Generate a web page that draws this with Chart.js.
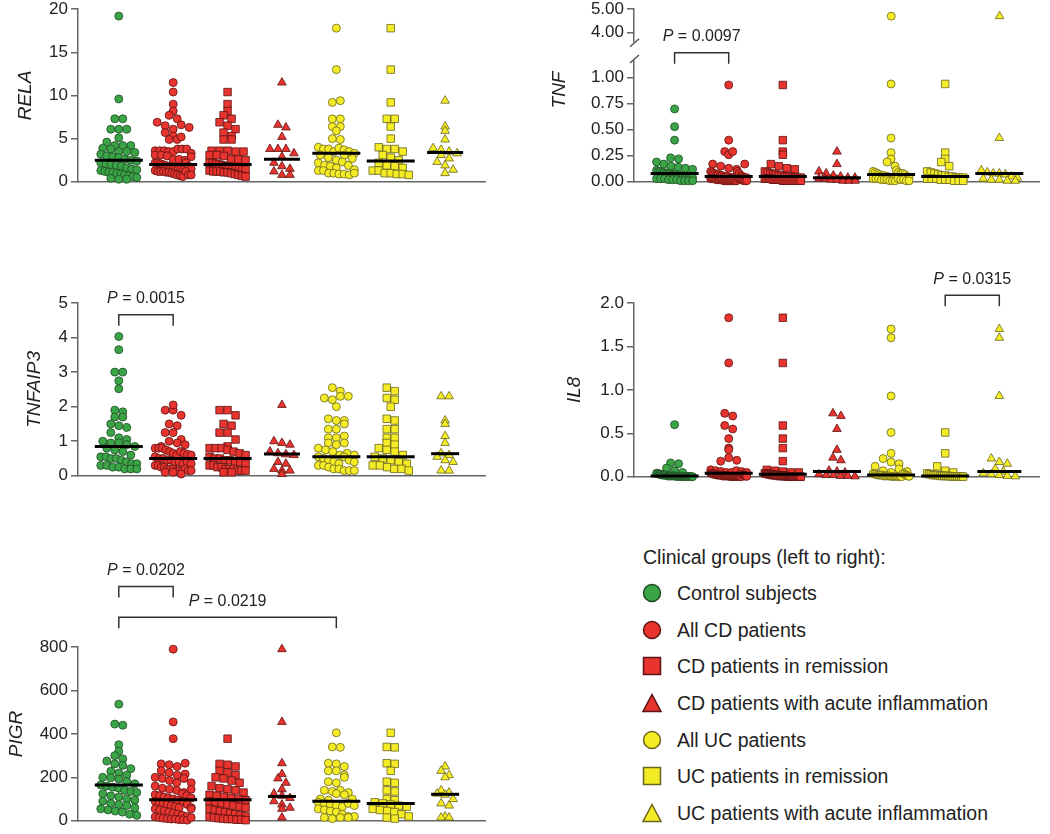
<!DOCTYPE html>
<html>
<head>
<meta charset="utf-8">
<script src="https://cdn.jsdelivr.net/npm/chart.js@4.4.1/dist/chart.umd.min.js"></script>
<style>
  body { margin: 0; width: 1050px; height: 834px; position: relative; overflow: hidden; background: #fff;
         font-family: 'Liberation Sans', Arial, sans-serif; color: #222; }
  .box { position: absolute; }
  #legend { position: absolute; left: 642px; top: 544px; font-size: 19.5px; }
  #legend .head { height: 26px; line-height: 26px; margin-left: 1px; }
  #legend .row { position: absolute; left: 0; height: 24px; line-height: 24px; white-space: nowrap; }
  #legend svg { position: absolute; left: 0; top: 2px; }
  #legend span { position: absolute; left: 35px; }
</style>
</head>
<body>
<div id="legend"></div>
<script>
const FONT = "'Liberation Sans', Arial, sans-serif";

// groups, left to right
const groupNames = ['Control subjects', 'All CD patients', 'CD patients in remission',
  'CD patients with acute inflammation', 'All UC patients', 'UC patients in remission',
  'UC patients with acute inflammation'];

// RELA
const relaControl = [19.2, 9.6, 7.3, 7.3, 6.1, 6.1, 6.1, 5.1, 4.6, 4.2, 4.2, 4.2, 3.9, 3.8, 3.5, 3.5, 3.4, 3.2, 3.0, 2.9, 2.8, 2.6, 2.5, 2.4, 2.2, 2.1, 2.0, 1.9, 1.8, 1.6, 1.5, 1.4, 1.3, 1.2, 1.1, 1.1, 1.0, 0.9, 0.8, 0.7, 0.6, 0.5, 0.4, 0.3, 0.3];
const relaCDRemission = [10.4, 9.0, 8.2, 7.7, 7.3, 6.9, 6.5, 6.1, 5.7, 5.3, 4.9, 4.9, 3.6, 3.6, 3.6, 3.5, 3.5, 3.1, 3.1, 3.0, 2.6, 2.6, 2.5, 2.2, 2.2, 2.1, 2.0, 1.9, 1.8, 1.8, 1.6, 1.6, 1.5, 1.5, 1.4, 1.3, 1.2, 1.2, 1.2, 1.1, 1.1, 1.0, 0.9, 0.8, 0.7, 0.6];
const relaCDAcute = [11.5, 6.6, 6.3, 5.2, 3.8, 3.8, 3.8, 3.3, 2.9, 2.2, 1.8, 1.5, 1.2, 0.8, 0.8];
const relaUCRemission = [17.8, 13.0, 9.2, 7.3, 7.3, 6.4, 5.0, 4.0, 3.8, 3.8, 3.5, 3.1, 2.8, 2.5, 2.2, 1.9, 1.8, 1.6, 1.3, 1.3, 1.0, 1.0, 0.9, 0.9, 0.8];
const relaUCAcute = [9.4, 6.4, 5.9, 4.9, 3.9, 3.7, 3.5, 3.3, 3.1, 2.7, 2.3, 1.9, 1.4, 1.0];
const relaMedians = [2.5, 2.0, 2.0, 2.6, 3.3, 2.4, 3.4];
const relaTicks = [0, 5, 10, 15, 20];

// TNF (broken axis)
const tnfControl = [0.70, 0.53, 0.40, 0.23, 0.22, 0.19, 0.17, 0.15, 0.14, 0.13, 0.12, 0.11, 0.10, 0.10, 0.09, 0.09, 0.08, 0.08, 0.08, 0.07, 0.07, 0.07, 0.06, 0.06, 0.06, 0.05, 0.05, 0.05, 0.04, 0.04, 0.04, 0.03, 0.03, 0.03, 0.02, 0.02, 0.02, 0.01, 0.01, 0.01, 0.01];
const tnfCDRemission = [0.93, 0.40, 0.29, 0.26, 0.17, 0.15, 0.13, 0.12, 0.10, 0.09, 0.08, 0.07, 0.07, 0.06, 0.06, 0.05, 0.05, 0.05, 0.04, 0.04, 0.04, 0.04, 0.03, 0.03, 0.03, 0.03, 0.02, 0.02, 0.02, 0.02, 0.02, 0.01, 0.01, 0.01, 0.01, 0.01, 0.01, 0.01, 0.01, 0.01, 0.01];
const tnfCDAcute = [0.29, 0.17, 0.10, 0.08, 0.06, 0.05, 0.04, 0.04, 0.03, 0.03, 0.02, 0.02, 0.01, 0.01, 0.01];
const tnfUCRemission = [0.94, 0.28, 0.22, 0.19, 0.15, 0.10, 0.09, 0.08, 0.07, 0.06, 0.06, 0.05, 0.05, 0.04, 0.04, 0.04, 0.03, 0.03, 0.03, 0.02, 0.02, 0.02, 0.01, 0.01, 0.01];
const tnfUCAcute = [4.70, 0.42, 0.11, 0.09, 0.08, 0.08, 0.07, 0.05, 0.04, 0.03, 0.02, 0.02, 0.01, 0.01];
const tnfMedians = [0.08, 0.05, 0.05, 0.04, 0.07, 0.05, 0.08];
const tnfLowTicks = [0, 0.25, 0.5, 0.75, 1];
const tnfHighTicks = [4, 5];
const tnfBreak = 1.17;

// TNFAIP3
const tnfaip3Control = [4.03, 3.65, 3.0, 3.0, 2.75, 2.52, 1.9, 1.85, 1.7, 1.7, 1.5, 1.45, 1.4, 1.25, 1.1, 1.05, 1.0, 0.95, 0.95, 0.9, 0.85, 0.8, 0.75, 0.7, 0.6, 0.55, 0.55, 0.5, 0.5, 0.45, 0.4, 0.35, 0.35, 0.3, 0.3, 0.25, 0.25, 0.2, 0.2, 0.2];
const tnfaip3CDRemission = [1.9, 1.9, 1.75, 1.5, 1.45, 1.25, 1.25, 1.05, 0.85, 0.8, 0.8, 0.8, 0.75, 0.7, 0.65, 0.6, 0.55, 0.5, 0.5, 0.45, 0.45, 0.4, 0.4, 0.35, 0.3, 0.3, 0.25, 0.25, 0.2, 0.2, 0.2, 0.15, 0.15, 0.15, 0.1, 0.1];
const tnfaip3CDAcute = [2.05, 1.0, 0.95, 0.9, 0.7, 0.65, 0.62, 0.6, 0.4, 0.35, 0.2, 0.15, 0.15, 0.05];
const tnfaip3UCRemission = [2.55, 2.45, 2.25, 2.2, 2.0, 1.65, 1.6, 1.35, 1.35, 1.1, 1.1, 0.95, 0.9, 0.8, 0.75, 0.7, 0.6, 0.55, 0.5, 0.45, 0.4, 0.35, 0.3, 0.3, 0.25, 0.2, 0.2, 0.15];
const tnfaip3UCAcute = [2.3, 2.3, 1.6, 1.5, 1.15, 0.95, 0.65, 0.6, 0.55, 0.45, 0.4, 0.15, 0.15];
const tnfaip3Medians = [0.85, 0.5, 0.5, 0.63, 0.55, 0.55, 0.64];
const tnfaip3Ticks = [0, 1, 2, 3, 4, 5];

// IL8
const il8Control = [0.60, 0.16, 0.15, 0.10, 0.07, 0.05, 0.04, 0.04, 0.03, 0.03, 0.03, 0.02, 0.02, 0.02, 0.02, 0.02, 0.01, 0.01, 0.01, 0.01, 0.01, 0.01, 0.01, 0.01, 0.005, 0.005, 0.005, 0.005, 0.005, 0.005, 0.005, 0.005, 0.003, 0.003, 0.003, 0.003, 0.002, 0.002, 0.002, 0.002];
const il8CDRemission = [1.83, 1.31, 0.59, 0.44, 0.33, 0.18, 0.08, 0.07, 0.06, 0.05, 0.05, 0.04, 0.04, 0.04, 0.03, 0.03, 0.03, 0.03, 0.02, 0.02, 0.02, 0.02, 0.02, 0.02, 0.01, 0.01, 0.01, 0.01, 0.01, 0.01, 0.01, 0.01, 0.005, 0.005, 0.005, 0.005, 0.005, 0.005, 0.005, 0.005, 0.003, 0.003, 0.003, 0.003, 0.002, 0.002];
const il8CDAcute = [0.73, 0.70, 0.55, 0.31, 0.22, 0.19, 0.07, 0.06, 0.05, 0.03, 0.02, 0.02, 0.01, 0.01, 0.005];
const il8UCRemission = [0.51, 0.27, 0.12, 0.07, 0.05, 0.04, 0.03, 0.03, 0.02, 0.02, 0.02, 0.02, 0.01, 0.01, 0.01, 0.01, 0.01, 0.005, 0.005, 0.005, 0.005, 0.005, 0.003, 0.003, 0.002];
const il8UCAcute = [1.70, 1.60, 0.93, 0.21, 0.17, 0.15, 0.09, 0.06, 0.04, 0.03, 0.02, 0.01, 0.005];
const il8Medians = [0.01, 0.04, 0.03, 0.06, 0.02, 0.01, 0.06];
const il8Ticks = [0, 0.5, 1, 1.5, 2];

// PIGR
const pigrControl = [537, 445, 440, 350, 320, 300, 285, 275, 262, 255, 240, 228, 220, 210, 200, 198, 192, 180, 170, 165, 160, 155, 150, 140, 135, 130, 125, 115, 110, 100, 95, 90, 80, 75, 70, 60, 55, 50, 45, 40, 30, 25];
const pigrCDRemission = [378, 262, 258, 250, 230, 222, 210, 200, 195, 185, 175, 160, 150, 145, 140, 130, 120, 115, 110, 105, 100, 95, 90, 85, 80, 75, 70, 65, 60, 55, 50, 45, 40, 35, 30, 25, 20, 18, 15, 12, 10, 8, 8, 5, 5, 3];
const pigrCDAcute = [790, 455, 265, 215, 195, 175, 145, 125, 115, 105, 90, 75, 60, 55, 15];
const pigrUCRemission = [405, 340, 338, 265, 262, 230, 180, 175, 140, 135, 100, 95, 85, 80, 75, 70, 65, 55, 50, 45, 40, 30, 20, 15, 10];
const pigrUCAcute = [250, 230, 210, 200, 140, 130, 125, 120, 100, 80, 70, 20, 15, 15];
const pigrMedians = [165, 97, 97, 112, 90, 80, 122];
const pigrTicks = [0, 200, 400, 600, 800];

// significance brackets (groups compared, bracket height in axis units)
const tnfBrackets = [{from: 1, to: 2, y: 1.24, p: '0.0097'}];
const tnfaip3Brackets = [{from: 1, to: 2, y: 4.66, p: '0.0015'}];
const il8Brackets = [{from: 6, to: 7, y: 2.09, p: '0.0315'}];
const pigrBrackets = [{from: 1, to: 2, y: 1079, p: '0.0202'}, {from: 1, to: 5, y: 937, p: '0.0219'}];

// styling
const fills = ['#3ba447', '#e8332e', '#e8332e', '#e8332e', '#f4ec25', '#f4ec25', '#f4ec25'];
const edges = ['#1f4a24', '#5a1412', '#5a1412', '#5a1412', '#6b6420', '#6b6420', '#6b6420'];
const shapes = ['circle', 'circle', 'rect', 'triangle', 'circle', 'rect', 'triangle'];
const radius = {circle: 4, rect: 5.3, triangle: 5};
const BIN = 8, MAXSPAN = 36;

// all CD = remission + acute, all UC = remission + acute
function collect(c, cdR, cdA, ucR, ucA) {
  return [c, cdR.concat(cdA), cdR, cdA, ucR.concat(ucA), ucR, ucA];
}

const extras = {
  id: 'extras',
  afterDraw(chart, args, opts) {
    const {ctx} = chart, xs = chart.scales.x, ys = chart.scales.y;
    ctx.save();
    ctx.strokeStyle = '#333';
    ctx.lineWidth = 1.5;
    (opts.brackets || []).forEach(b => {
      const x1 = xs.getPixelForValue(b.from), x2 = xs.getPixelForValue(b.to), y = ys.getPixelForValue(b.y);
      ctx.beginPath();
      ctx.moveTo(x1, y + 11); ctx.lineTo(x1, y); ctx.lineTo(x2, y); ctx.lineTo(x2, y + 11);
      ctx.stroke();
      ctx.font = 'italic 16px ' + FONT;
      const wP = ctx.measureText('P').width;
      ctx.font = '16px ' + FONT;
      const rest = ' = ' + b.p, wR = ctx.measureText(rest).width;
      const start = (x1 + x2) / 2 - (wP + wR) / 2, ty = y - 16;
      ctx.fillStyle = '#222';
      ctx.textBaseline = 'middle';
      ctx.textAlign = 'left';
      ctx.font = 'italic 16px ' + FONT;
      ctx.fillText('P', start, ty);
      ctx.font = '16px ' + FONT;
      ctx.fillText(rest, start + wP, ty);
    });
    if (opts.cut) {
      const x = ys.right, y = opts.cut === 'bottom' ? ys.bottom + 1 : ys.top - 1;
      ctx.strokeStyle = '#555';
      ctx.beginPath(); ctx.moveTo(x - 4, y + 4); ctx.lineTo(x + 5, y - 4); ctx.stroke();
    }
    if (opts.sideTitle) {
      const t = opts.sideTitle;
      ctx.translate(t.x, t.y);
      ctx.rotate(-Math.PI / 2);
      ctx.font = 'italic 19px ' + FONT;
      ctx.fillStyle = '#222';
      ctx.textAlign = 'center';
      ctx.textBaseline = 'middle';
      ctx.fillText(t.text, 0, 0);
    }
    ctx.restore();
  }
};

function arrange(chart) {
  const xs = chart.scales.x, ys = chart.scales.y;
  const ppu = xs.getPixelForValue(1) - xs.getPixelForValue(0);
  const spans = {};
  chart.data.datasets.filter(d => d.kind === 'pts').forEach(d => {
    const rows = new Map();
    d.values.forEach((v, i) => {
      const r = Math.round((ys.getPixelForValue(0) - ys.getPixelForValue(v)) / BIN);
      if (!rows.has(r)) rows.set(r, []);
      rows.get(r).push(i);
    });
    let span = 0;
    rows.forEach(idx => {
      const n = idx.length, step = n > 1 ? Math.min(BIN, MAXSPAN / (n - 1)) : 0;
      idx.forEach((k, j) => { d.data[k] = {x: d.group + (j - (n - 1) / 2) * step / ppu, y: d.values[k]}; });
      span = Math.max(span, (n - 1) * step);
    });
    spans[d.group] = span;
  });
  chart.data.datasets.filter(d => d.kind === 'med').forEach(d => {
    const half = Math.max(14, spans[d.group] / 2 + 6) / ppu;
    d.data = [{x: d.group - half, y: d.median}, {x: d.group + half, y: d.median}];
  });
  chart.update('none');
}

function panel(o) {
  const padB = 12, padR = 4;
  const wrap = document.createElement('div');
  wrap.className = 'box';
  wrap.style.left = (o.left - o.axisW) + 'px';
  wrap.style.top = (o.top - o.padTop) + 'px';
  wrap.style.width = (o.axisW + o.width + padR) + 'px';
  wrap.style.height = (o.padTop + o.height + padB) + 'px';
  const cv = document.createElement('canvas');
  wrap.appendChild(cv);
  document.body.appendChild(wrap);

  const datasets = [];
  o.groups.forEach((vals, g) => {
    datasets.push({
      kind: 'pts', group: g + 1, values: vals,
      data: vals.map(v => ({x: g + 1, y: v})),
      pointStyle: shapes[g], pointRadius: radius[shapes[g]],
      backgroundColor: fills[g], borderColor: edges[g], borderWidth: 0.8,
      order: 2, clip: false
    });
  });
  (o.medians || []).forEach((m, g) => {
    datasets.push({
      kind: 'med', group: g + 1, median: m,
      data: [{x: g + 1, y: m}, {x: g + 1, y: m}],
      showLine: true, borderColor: '#000', borderWidth: 3, pointRadius: 0,
      order: 1, clip: false
    });
  });

  const chart = new Chart(cv, {
    type: 'scatter',
    data: {datasets},
    options: {
      responsive: true, maintainAspectRatio: false, animation: false, events: [],
      layout: {padding: {top: o.padTop, bottom: padB, left: 0, right: padR}},
      scales: {
        x: {
          type: 'linear', min: 0.25, max: 7.75, display: !o.noX,
          ticks: {display: false}, grid: {display: false},
          border: {display: true, color: '#666', width: 1.5},
          afterFit: s => { s.height = 0; }
        },
        y: {
          type: 'linear', min: o.min, max: o.max,
          afterBuildTicks: s => { s.ticks = o.ticks.map(v => ({value: v})); },
          afterFit: s => { s.width = o.axisW; },
          ticks: {callback: v => o.fmt(v), color: '#222', padding: 3, font: {family: FONT, size: 17}},
          grid: {drawOnChartArea: false, color: '#666', lineWidth: 1.5, tickLength: 7},
          border: {display: true, color: '#666', width: 1.5},
          title: {display: !!o.title, text: o.title, color: '#222', padding: {top: o.titlePad || 0, bottom: 0},
                  font: {family: FONT, size: 19, style: 'italic'}}
        }
      },
      plugins: {
        legend: {display: false}, tooltip: {enabled: false},
        extras: {brackets: o.brackets, cut: o.cut, sideTitle: o.sideTitle}
      }
    },
    plugins: [extras]
  });
  arrange(chart);
  return chart;
}

const int = v => String(v);

panel({left: 78, top: 8, width: 410, height: 175, axisW: 78, padTop: 12,
  min: 0, max: 20, ticks: relaTicks, fmt: int, title: 'RELA', titlePad: 14.6,
  groups: collect(relaControl, relaCDRemission, relaCDAcute, relaUCRemission, relaUCAcute),
  medians: relaMedians});

const tnfGroups = collect(tnfControl, tnfCDRemission, tnfCDAcute, tnfUCRemission, tnfUCAcute);
panel({left: 634, top: 8, width: 408, height: 35, axisW: 94, padTop: 12, noX: true,
  min: 3.6, max: 5, ticks: tnfHighTicks, fmt: v => v.toFixed(2), cut: 'bottom',
  groups: tnfGroups.map(a => a.filter(v => v > tnfBreak))});
panel({left: 634, top: 60, width: 408, height: 123, axisW: 94, padTop: 35,
  min: 0, max: tnfBreak, ticks: tnfLowTicks, fmt: v => v.toFixed(2), cut: 'top',
  sideTitle: {text: 'TNF', x: 20, y: 65}, brackets: tnfBrackets,
  groups: tnfGroups.map(a => a.filter(v => v <= tnfBreak)), medians: tnfMedians});

panel({left: 78, top: 303, width: 410, height: 174, axisW: 78, padTop: 18,
  min: 0, max: 5, ticks: tnfaip3Ticks, fmt: int, title: 'TNFAIP3', titlePad: 23.6,
  brackets: tnfaip3Brackets,
  groups: collect(tnfaip3Control, tnfaip3CDRemission, tnfaip3CDAcute, tnfaip3UCRemission, tnfaip3UCAcute),
  medians: tnfaip3Medians});

panel({left: 634, top: 303, width: 408, height: 175, axisW: 94, padTop: 35,
  min: 0, max: 2, ticks: il8Ticks, fmt: v => v.toFixed(1), title: 'IL8', titlePad: 23.6,
  brackets: il8Brackets,
  groups: collect(il8Control, il8CDRemission, il8CDAcute, il8UCRemission, il8UCAcute),
  medians: il8Medians});

panel({left: 78, top: 647, width: 410, height: 175, axisW: 78, padTop: 92,
  min: 0, max: 800, ticks: pigrTicks, fmt: int, title: 'PIGR', titlePad: 5.6,
  brackets: pigrBrackets,
  groups: collect(pigrControl, pigrCDRemission, pigrCDAcute, pigrUCRemission, pigrUCAcute),
  medians: pigrMedians});

// legend
const legend = document.getElementById('legend');
legend.innerHTML = '<div class="head">Clinical groups (left to right):</div>';
groupNames.forEach((name, g) => {
  const row = document.createElement('div');
  row.className = 'row';
  row.style.top = (49 + g * 36.67 - 12) + 'px';
  let mark;
  if (shapes[g] === 'circle') mark = '<circle cx="10" cy="10" r="8.5"/>';
  else if (shapes[g] === 'rect') mark = '<rect x="1.5" y="1.5" width="17" height="17"/>';
  else mark = '<polygon points="10,1.5 19,18.5 1,18.5"/>';
  row.innerHTML = '<svg width="20" height="20"><g fill="' + fills[g] + '" stroke="' + edges[g] +
    '" stroke-width="1.5">' + mark + '</g></svg><span>' + name + '</span>';
  legend.appendChild(row);
});
</script>
</body>
</html>
